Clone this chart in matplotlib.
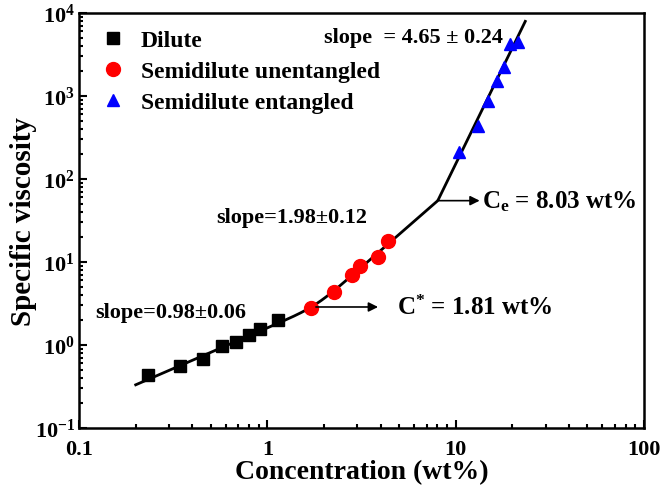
import numpy as np
import matplotlib
matplotlib.use("Agg")
import matplotlib.pyplot as plt
from matplotlib.ticker import FixedLocator, LogLocator, FuncFormatter, NullFormatter

# ── data ──────────────────────────────────────────────────────────────────
dilute_c = [0.232, 0.344, 0.457, 0.573, 0.683, 0.80, 0.914, 1.14]
dilute_eta = [0.435, 0.553, 0.678, 0.964, 1.10, 1.32, 1.56, 2.02]

unent_c = [1.71, 2.26, 2.81, 3.11, 3.89, 4.39]
unent_eta = [2.77, 4.31, 6.97, 9.02, 11.4, 18.1]

ent_c = [10.47, 13.15, 14.86, 16.53, 18.15, 19.45, 21.4]
ent_eta = [213, 439, 878, 1528, 2218, 4234, 4475]

# power-law fit: slopes and crossover concentrations
slopes = [0.98, 1.98, 4.65]
c_star = 1.81
c_e = 8.03
eta_star = 2.87
fit_range = (0.2, 23.4)

x_ticks = [0.1, 1, 10, 100]
x_tick_labels = ["0.1", "1", "10", "100"]
y_tick_exps = [-1, 0, 1, 2, 3, 4]

plt.rcParams["font.family"] = ["Liberation Serif", "DejaVu Serif"]
plt.rcParams["font.weight"] = "bold"
plt.rcParams["mathtext.fontset"] = "custom"
plt.rcParams["mathtext.rm"] = "Liberation Serif:bold"
plt.rcParams["mathtext.bf"] = "Liberation Serif:bold"
plt.rcParams["mathtext.it"] = "Liberation Serif:bold"

fig = plt.figure(figsize=(6.64, 4.89), dpi=100)
ax = fig.add_axes([0.119, 0.1227, 0.851, 0.8487])

# fit line (smooth bend at C*, sharp at Ce)
c = np.geomspace(fit_range[0], fit_range[1], 400)
d = np.log10(c / c_star)
w = 0.05
log_fit = (np.log10(eta_star) + slopes[0] * d
           + (slopes[1] - slopes[0]) * w * np.log(1 + np.exp(d / w)))
eta_e = eta_star * (c_e / c_star) ** slopes[1]
hi = c > c_e
log_fit[hi] = np.log10(eta_e) + slopes[2] * np.log10(c[hi] / c_e)
ax.plot(c, 10 ** log_fit, color="black", lw=2, zorder=2)

ax.plot(dilute_c, dilute_eta, "s", color="black", ms=9, label="Dilute", zorder=3)
ax.plot(unent_c, unent_eta, "o", color="#ff0000", ms=10,
        label="Semidilute unentangled", zorder=3)
ax.plot(ent_c, ent_eta, "^", color="#0000ff", ms=9,
        label="Semidilute entangled", zorder=3)

ax.set_xscale("log")
ax.set_yscale("log")
ax.set_xlim(0.1, 100)
ax.set_ylim(0.1, 1e4)

ax.xaxis.set_major_locator(FixedLocator(x_ticks))
ax.xaxis.set_major_formatter(FuncFormatter(
    lambda v, p: x_tick_labels[x_ticks.index(v)] if v in x_ticks else ""))
ax.xaxis.set_minor_locator(LogLocator(base=10, subs=np.arange(2, 10)))
ax.xaxis.set_minor_formatter(NullFormatter())

ax.yaxis.set_major_locator(FixedLocator([10.0 ** e for e in y_tick_exps]))
ax.yaxis.set_major_formatter(FuncFormatter(
    lambda v, p: r"$\mathbf{10^{%d}}$" % round(np.log10(v))))
ax.yaxis.set_minor_locator(LogLocator(base=10, subs=np.arange(2, 10)))
ax.yaxis.set_minor_formatter(NullFormatter())

ax.tick_params(which="both", direction="in", top=False, right=False,
               width=1.5)
ax.tick_params(axis="x", pad=8, labelsize=16)
ax.tick_params(axis="y", pad=3, labelsize=16)
ax.tick_params(which="major", length=6)
ax.tick_params(which="minor", length=3)
for sp in ax.spines.values():
    sp.set_linewidth(1.8)

ax.set_xlabel("Concentration (wt%)", fontsize=20, fontweight="bold", labelpad=0)
ax.set_ylabel("Specific viscosity", fontsize=21, fontweight="bold")
ax.yaxis.set_label_coords(-0.075, 0.5)

ax.legend(loc="upper left", frameon=False, fontsize=17, handletextpad=0.6,
          borderaxespad=0.3, labelspacing=0.4, handlelength=1.2,
          bbox_to_anchor=(0.005, 1.0))

# annotations
ax.text(0.1217, 2.5, "slope=0.98\u00b10.06", fontsize=16, fontweight="bold",
        ha="left", va="center")
ax.text(3.38, 34.8, "slope=1.98\u00b10.12", fontsize=16, fontweight="bold",
        ha="right", va="center")
ax.text(17.9, 5140, "slope  = 4.65 \u00b1 0.24", fontsize=16, fontweight="bold",
        ha="right", va="center")

arrow = dict(arrowstyle="-|>", color="black", lw=1.2, mutation_scale=14,
             shrinkA=0, shrinkB=0)
ax.annotate("", xy=(3.87, eta_star), xytext=(c_star, eta_star), arrowprops=arrow)
ax.text(4.88, eta_star, r"C$^{*}$ = 1.81 wt%", fontsize=18, fontweight="bold",
        ha="left", va="center")
ax.annotate("", xy=(13.4, eta_e), xytext=(c_e, eta_e), arrowprops=arrow)
ax.text(13.8, eta_e, r"C$_{\rm e}$ = 8.03 wt%", fontsize=18, fontweight="bold",
        ha="left", va="center")

fig.savefig("out.png", dpi=100)
